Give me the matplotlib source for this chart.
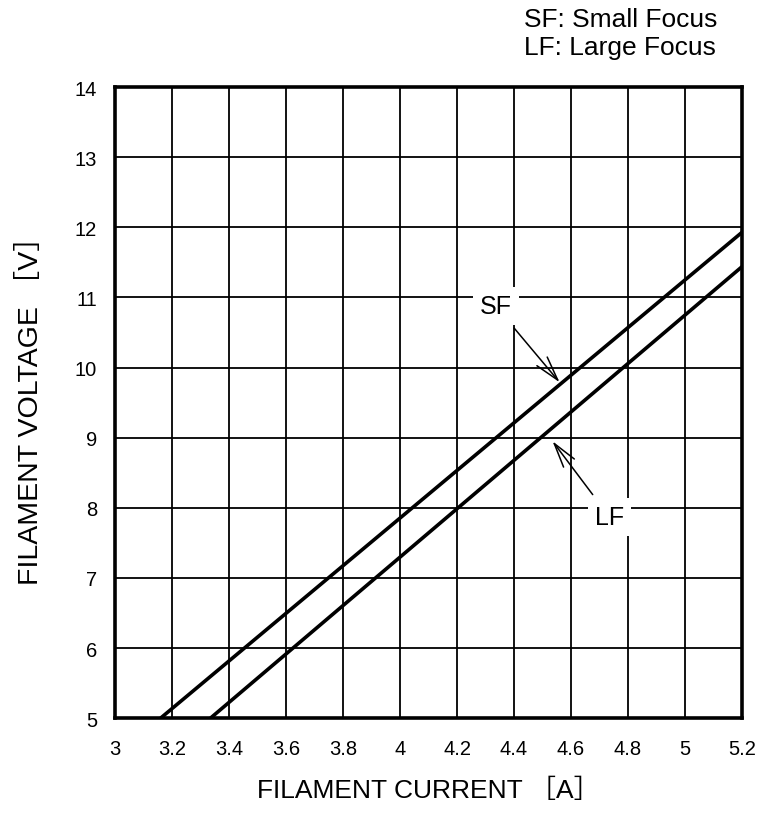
import matplotlib.pyplot as plt

plt.rcParams['font.family'] = ['Liberation Sans', 'Noto Sans CJK JP', 'DejaVu Sans']

# filament characteristics (current [A] -> voltage [V])
sf_current = [3.16, 5.2]
sf_voltage = [5.0, 11.93]
lf_current = [3.335, 5.2]
lf_voltage = [5.0, 11.44]

x_ticks = [3, 3.2, 3.4, 3.6, 3.8, 4, 4.2, 4.4, 4.6, 4.8, 5, 5.2]
x_labels = ['3', '3.2', '3.4', '3.6', '3.8', '4', '4.2', '4.4', '4.6', '4.8', '5', '5.2']
y_ticks = [5, 6, 7, 8, 9, 10, 11, 12, 13, 14]


def main():
    fig = plt.figure(figsize=(7.61, 8.2), dpi=100)
    ax = fig.add_axes([0.1511, 0.123, 0.824, 0.7695])

    ax.plot(sf_current, sf_voltage, color='black', lw=2.6, solid_capstyle='butt')
    ax.plot(lf_current, lf_voltage, color='black', lw=2.6, solid_capstyle='butt')

    ax.set_xlim(3, 5.2)
    ax.set_ylim(5, 14)
    ax.set_xticks(x_ticks)
    ax.set_xticklabels(x_labels)
    ax.set_yticks(y_ticks)
    ax.tick_params(length=0, labelsize=14.5)
    ax.tick_params(axis='x', pad=15)
    ax.tick_params(axis='y', pad=13)
    ax.grid(True, color='black', lw=1.3)
    ax.set_axisbelow(True)
    for s in ax.spines.values():
        s.set_linewidth(2.6)

    ax.set_xlabel('FILAMENT CURRENT ［A］', fontsize=19, labelpad=14)
    ax.set_ylabel('FILAMENT VOLTAGE ［V］', fontsize=20.5, labelpad=22)

    box = dict(facecolor='white', edgecolor='none', pad=5)
    arrow = dict(arrowstyle='->,head_length=0.8,head_width=0.22', color='black',
                 lw=1.1, mutation_scale=22, shrinkA=3, shrinkB=0)
    ax.annotate('SF', xy=(4.56, 9.79), xytext=(4.335, 10.88),
                fontsize=18, ha='center', va='center', bbox=box,
                arrowprops=arrow)
    ax.annotate('LF', xy=(4.535, 8.95), xytext=(4.735, 7.87),
                fontsize=18, ha='center', va='center', bbox=box,
                arrowprops=arrow)

    fig.text(0.688, 0.976, 'SF: Small Focus', fontsize=19, ha='left', va='center')
    fig.text(0.688, 0.941, 'LF: Large Focus', fontsize=19, ha='left', va='center')

    fig.savefig('out.png', dpi=100)


if __name__ == "__main__":
    main()
